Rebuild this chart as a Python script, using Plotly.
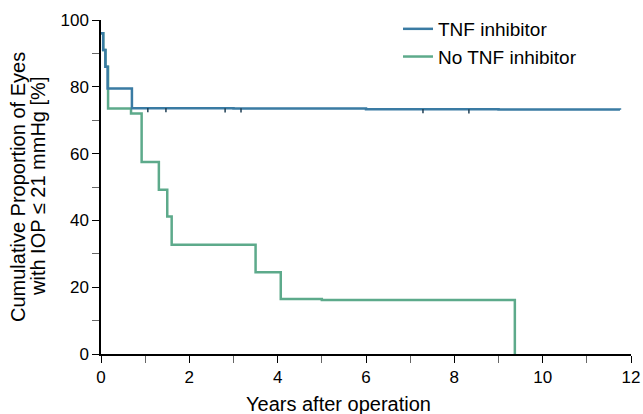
import plotly.graph_objects as go

# TNF inhibitor Kaplan-Meier steps
tnf_x = [0, 0.05, 0.1, 0.15, 0.7, 3.0, 6.0, 9.0, 11.75]
tnf_y = [96, 91, 86, 79.5, 73.6, 73.5, 73.3, 73.2, 73.1]
# censoring marks on TNF curve
tnf_cens_x = [1.06, 1.47, 2.81, 3.17, 7.29, 8.33]
tnf_cens_y = [73.0, 73.0, 72.95, 72.95, 72.7, 72.65]

# No TNF inhibitor steps
no_x = [0, 0.05, 0.1, 0.16, 0.68, 0.92, 1.31, 1.5, 1.6, 3.5, 4.07, 5.0, 9.37, 9.37]
no_y = [96, 91, 86, 73.5, 72.0, 57.5, 49.2, 41.2, 32.7, 24.5, 16.5, 16.2, 16.2, 0]

x_ticks = [0, 2, 4, 6, 8, 10, 12]
y_ticks = [0, 20, 40, 60, 80, 100]

x_title = "Years after operation"
y_title_lines = ["Cumulative Proportion of Eyes", "with IOP ≤ 21 mmHg [%]"]

blue = "#3a7ba3"
green = "#5daa8b"

fig = go.Figure()
fig.add_trace(go.Scatter(x=no_x, y=no_y, mode="lines", line_shape="hv",
                         line=dict(color=green, width=2.5), name="No TNF inhibitor",
                         legendgroup="b", cliponaxis=False))
fig.add_trace(go.Scatter(x=tnf_x, y=tnf_y, mode="lines", line_shape="hv",
                         line=dict(color=blue, width=2.5), name="TNF inhibitor",
                         legendgroup="a", cliponaxis=False))
fig.add_trace(go.Scatter(x=tnf_cens_x, y=tnf_cens_y, mode="markers",
                         marker=dict(symbol="line-ns", size=3,
                                     line=dict(color="#1f3f55", width=1.5)),
                         showlegend=False, hoverinfo="skip"))

font_family = "Arial, Liberation Sans, sans-serif"
fig.update_layout(
    width=643, height=414,
    margin=dict(l=101, r=12, t=20, b=60, autoexpand=False),
    plot_bgcolor="white", paper_bgcolor="white",
    font=dict(family=font_family, size=17, color="black"),
    showlegend=True,
    legend=dict(x=0.5604, y=1.03, xanchor="left", yanchor="top",
                font=dict(size=19), tracegroupgap=5, traceorder="reversed",
                bgcolor="rgba(0,0,0,0)"),
    xaxis=dict(range=[0, 12], tickvals=x_ticks, ticks="outside", ticklen=7,
               tickcolor="black", showline=True, linecolor="black", linewidth=1.5,
               showgrid=False, zeroline=False, automargin=False,
               tickfont=dict(size=17),
               minor=dict(dtick=1, tick0=0, ticks="outside", ticklen=7, tickcolor="#666666")),
    yaxis=dict(range=[0, 100], tickvals=y_ticks, ticks="outside", ticklen=7,
               tickcolor="black", showline=True, linecolor="black", linewidth=1.5,
               showgrid=False, zeroline=False, automargin=False,
               tickfont=dict(size=17),
               minor=dict(dtick=10, tick0=0, ticks="outside", ticklen=7, tickcolor="#666666")),
)

fig.add_annotation(text=x_title, xref="paper", yref="paper", x=0.5, y=0,
                   xanchor="center", yanchor="middle", xshift=-28, yshift=-50,
                   showarrow=False, font=dict(size=20))
fig.add_annotation(text=y_title_lines[0], xref="paper", yref="paper", x=0, y=0.5,
                   xanchor="center", yanchor="middle", xshift=-83, textangle=-90,
                   showarrow=False, font=dict(size=20))
fig.add_annotation(text=y_title_lines[1], xref="paper", yref="paper", x=0, y=0.5,
                   xanchor="center", yanchor="middle", xshift=-63, textangle=-90,
                   showarrow=False, font=dict(size=20))

fig.write_html("out.html", config={"displayModeBar": False},
               post_script="document.body.style.margin='0';document.body.style.overflow='hidden';")
